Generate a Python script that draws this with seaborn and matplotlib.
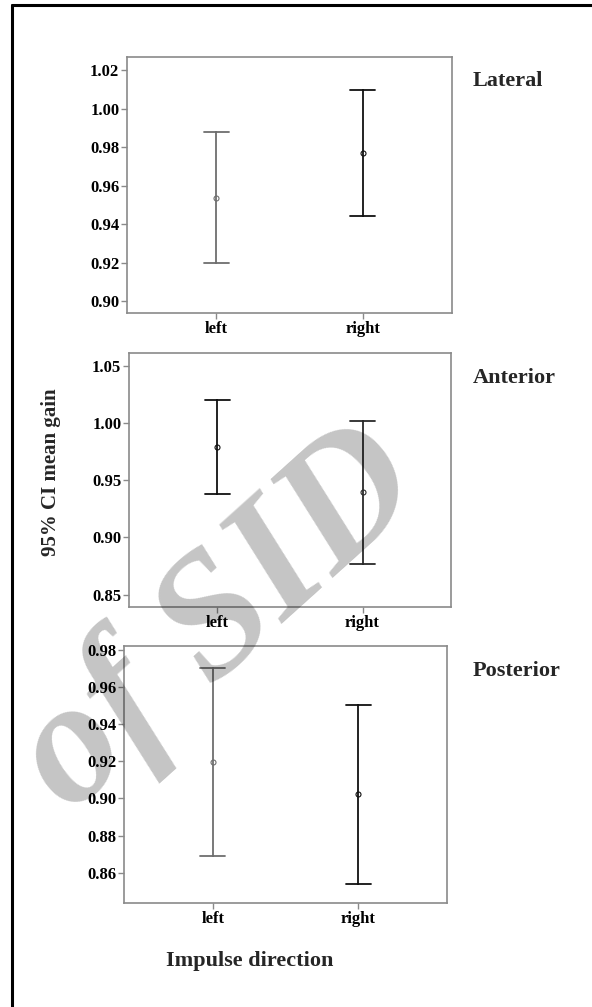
import numpy as np
import pandas as pd
import matplotlib
matplotlib.use("Agg")
import matplotlib.pyplot as plt
from matplotlib.lines import Line2D
import seaborn as sns

# Impulse directions on the x axis
directions = ["left", "right"]

# 95% CI of mean gain per canal plane: lower bound, mean, upper bound
lateral_mean = [0.9537, 0.9769]
lateral_lower = [0.9196, 0.9442]
lateral_upper = [0.9880, 1.0096]

anterior_mean = [0.9791, 0.9395]
anterior_lower = [0.9380, 0.8770]
anterior_upper = [1.0205, 1.0019]

posterior_mean = [0.9197, 0.9023]
posterior_lower = [0.8688, 0.8541]
posterior_upper = [0.9701, 0.9503]

lateral_ticks = [0.90, 0.92, 0.94, 0.96, 0.98, 1.00, 1.02]
anterior_ticks = [0.85, 0.90, 0.95, 1.00, 1.05]
posterior_ticks = [0.86, 0.88, 0.90, 0.92, 0.94, 0.96, 0.98]

sns.set_theme(style="white")
plt.rcParams["font.family"] = ["Liberation Serif", "DejaVu Serif"]
plt.rcParams["font.weight"] = "bold"

W, H = 592, 1007
fig = plt.figure(figsize=(W / 100, H / 100), dpi=100)


def box(left, top, right, bottom):
    return [left / W, 1 - bottom / H, (right - left) / W, (bottom - top) / H]


panels = [
    dict(name="Lateral", mean=lateral_mean, lower=lateral_lower, upper=lateral_upper,
         ticks=lateral_ticks, ylim=(0.8938, 1.0268), rect=box(127, 57, 452, 313),
         colors=["#6e6e6e", "#111111"], title_y=81),
    dict(name="Anterior", mean=anterior_mean, lower=anterior_lower, upper=anterior_upper,
         ticks=anterior_ticks, ylim=(0.8392, 1.0614), rect=box(129, 353, 451, 607),
         colors=["#111111", "#2a2a2a"], title_y=378),
    dict(name="Posterior", mean=posterior_mean, lower=posterior_lower, upper=posterior_upper,
         ticks=posterior_ticks, ylim=(0.8436, 0.9822), rect=box(124, 646, 447, 903),
         colors=["#6e6e6e", "#111111"], title_y=671),
]

spine_grey = "#8a8a8a"

for p in panels:
    ax = fig.add_axes(p["rect"])
    rows = []
    for d, lo, m, hi in zip(directions, p["lower"], p["mean"], p["upper"]):
        rows += [(d, lo), (d, m), (d, hi)]
    df = pd.DataFrame(rows, columns=["direction", "gain"])
    sns.pointplot(
        data=df, x="direction", y="gain", hue="direction",
        order=directions, hue_order=directions,
        palette=dict(zip(directions, p["colors"])),
        estimator="median", errorbar=lambda v: (v.min(), v.max()),
        capsize=0.17, linestyle="none", marker="o",
        markersize=3.6, markeredgewidth=0.8, markerfacecolor="white",
        err_kws={"linewidth": 1.3}, legend=False, ax=ax,
    )
    ax.set_xlim(-0.61, 1.61)
    ax.set_ylim(*p["ylim"])
    ax.set_yticks(p["ticks"])
    ax.set_yticklabels([f"{t:.2f}" for t in p["ticks"]])
    ax.set_xlabel("")
    ax.set_ylabel("")
    for s in ax.spines.values():
        s.set_visible(True)
        s.set_color(spine_grey)
        s.set_linewidth(1.2)
    ax.tick_params(axis="both", direction="out", length=4, width=1,
                   color=spine_grey, labelsize=12, pad=1.5,
                   left=True, bottom=True, labelcolor="black")
    for lab in ax.get_xticklabels() + ax.get_yticklabels():
        lab.set_fontweight("bold")
    fig.text(473 / W, 1 - p["title_y"] / H, p["name"], ha="left", va="center",
             fontsize=16, fontweight="bold")

fig.text(51 / W, 1 - 472 / H, "95% CI mean gain", rotation=90,
         ha="center", va="center", fontsize=15, fontweight="bold")
fig.text(250 / W, 1 - 961 / H, "Impulse direction", ha="center", va="center",
         fontsize=16, fontweight="bold")

# page frame
fig.add_artist(Line2D([12 / W, 1], [1 - 5 / H, 1 - 5 / H], transform=fig.transFigure,
                      color="black", linewidth=2.2))
fig.add_artist(Line2D([12 / W, 12 / W], [0, 1 - 5 / H], transform=fig.transFigure,
                      color="black", linewidth=2.2))

# archive stamp
fig.text(428 / W, 1 - 492 / H, "of SID", rotation=42, rotation_mode="anchor",
         ha="right", va="baseline", fontsize=126, fontstyle="italic",
         fontweight="bold", color="black", alpha=0.23, zorder=10)

fig.savefig("out.png", dpi=100)
